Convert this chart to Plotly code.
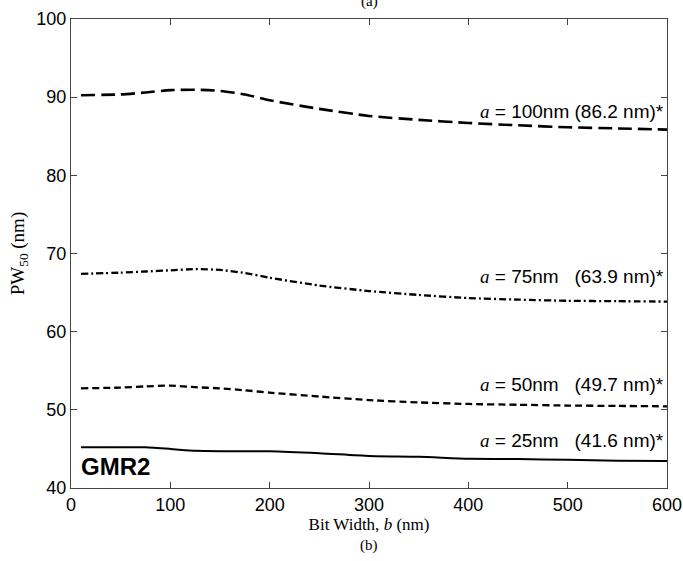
import plotly.graph_objects as go

# Bit width b (nm)
b_vals = [10, 50, 75, 100, 125, 150, 175, 200, 250, 300, 350, 400, 450, 500, 550, 600]

# PW50 (nm) for each a
pw_a100 = [90.25, 90.35, 90.6, 90.9, 90.95, 90.8, 90.35, 89.6, 88.5, 87.6, 87.1, 86.7, 86.4, 86.15, 86.0, 85.85]
pw_a75 = [67.4, 67.55, 67.7, 67.85, 68.0, 67.9, 67.5, 66.9, 65.9, 65.2, 64.7, 64.3, 64.1, 63.95, 63.9, 63.85]
pw_a50 = [52.75, 52.85, 53.0, 53.1, 52.9, 52.75, 52.5, 52.2, 51.7, 51.25, 50.95, 50.75, 50.65, 50.55, 50.5, 50.45]
pw_a25 = [45.2, 45.2, 45.2, 45.0, 44.75, 44.7, 44.7, 44.7, 44.45, 44.1, 44.0, 43.75, 43.7, 43.6, 43.5, 43.45]

series_names = ["a = 100nm", "a = 75nm", "a = 50nm", "a = 25nm"]
label_texts = [
    "<span style='font-family:Liberation Serif'><i>a</i></span> = 100nm (86.2 nm)*",
    "<span style='font-family:Liberation Serif'><i>a</i></span> = 75nm\u00a0\u00a0\u00a0(63.9 nm)*",
    "<span style='font-family:Liberation Serif'><i>a</i></span> = 50nm\u00a0\u00a0\u00a0(49.7 nm)*",
    "<span style='font-family:Liberation Serif'><i>a</i></span> = 25nm\u00a0\u00a0\u00a0(41.6 nm)*",
]
label_y = [88.2, 67.1, 53.2, 46.1]

x_ticks = [0, 100, 200, 300, 400, 500, 600]
y_ticks = [40, 50, 60, 70, 80, 90, 100]

fig = go.Figure()
styles = [
    dict(dash="14px,6px", width=2.6),
    dict(dash="7px,3px,2px,3px", width=2.3),
    dict(dash="7px,4px", width=2.3),
    dict(dash="solid", width=2.0),
]
for name, ys, st in zip(series_names, [pw_a100, pw_a75, pw_a50, pw_a25], styles):
    fig.add_trace(go.Scatter(x=b_vals, y=ys, mode="lines", name=name,
                             line=dict(color="black", shape="spline", smoothing=0.6, **st),
                             showlegend=False))

for txt, yv in zip(label_texts, label_y):
    fig.add_annotation(x=599, y=yv, xref="x", yref="y", text=txt, showarrow=False,
                       xanchor="right", yanchor="middle",
                       font=dict(family="Liberation Sans", size=19, color="black"))

fig.add_annotation(x=8, y=42.8, xref="x", yref="y", text="<b>GMR2</b>", showarrow=False,
                   xanchor="left", yanchor="middle",
                   font=dict(family="Liberation Sans", size=24, color="black"))

fig.add_annotation(x=0.5, y=1.038, xref="paper", yref="paper", text="(a)", showarrow=False,
                   xanchor="center", yanchor="middle",
                   font=dict(family="Liberation Serif", size=15, color="black"))
fig.add_annotation(x=0.5, y=-0.122, xref="paper", yref="paper", text="(b)", showarrow=False,
                   xanchor="center", yanchor="middle",
                   font=dict(family="Liberation Serif", size=15, color="black"))

axis_common = dict(showgrid=False, zeroline=False, showline=True, linecolor="#444", linewidth=1,
                   mirror="ticks", ticks="inside", ticklen=6, tickcolor="#444", tickwidth=1,
                   automargin=False,
                   tickfont=dict(family="Liberation Sans", size=18, color="black"))

fig.update_xaxes(range=[0, 600], tickvals=x_ticks,
                 title=dict(text="Bit Width, <i>b</i> (nm)", standoff=2,
                            font=dict(family="Liberation Serif", size=17, color="black")),
                 **axis_common)
fig.update_yaxes(range=[40, 100], tickvals=y_ticks,
                 title=dict(text="PW<sub>50</sub> (nm)", standoff=6,
                            font=dict(family="Liberation Serif", size=19, color="black")),
                 **axis_common)

fig.update_layout(width=683, height=561, margin=dict(l=71, r=16, t=19, b=73),
                  paper_bgcolor="white", plot_bgcolor="white")

# remove the default page margin so the figure fills the 683x561 window exactly
fig.write_html("out.html", config={"displayModeBar": False},
               post_script="document.body.style.margin='0px';document.body.style.overflow='hidden';")
